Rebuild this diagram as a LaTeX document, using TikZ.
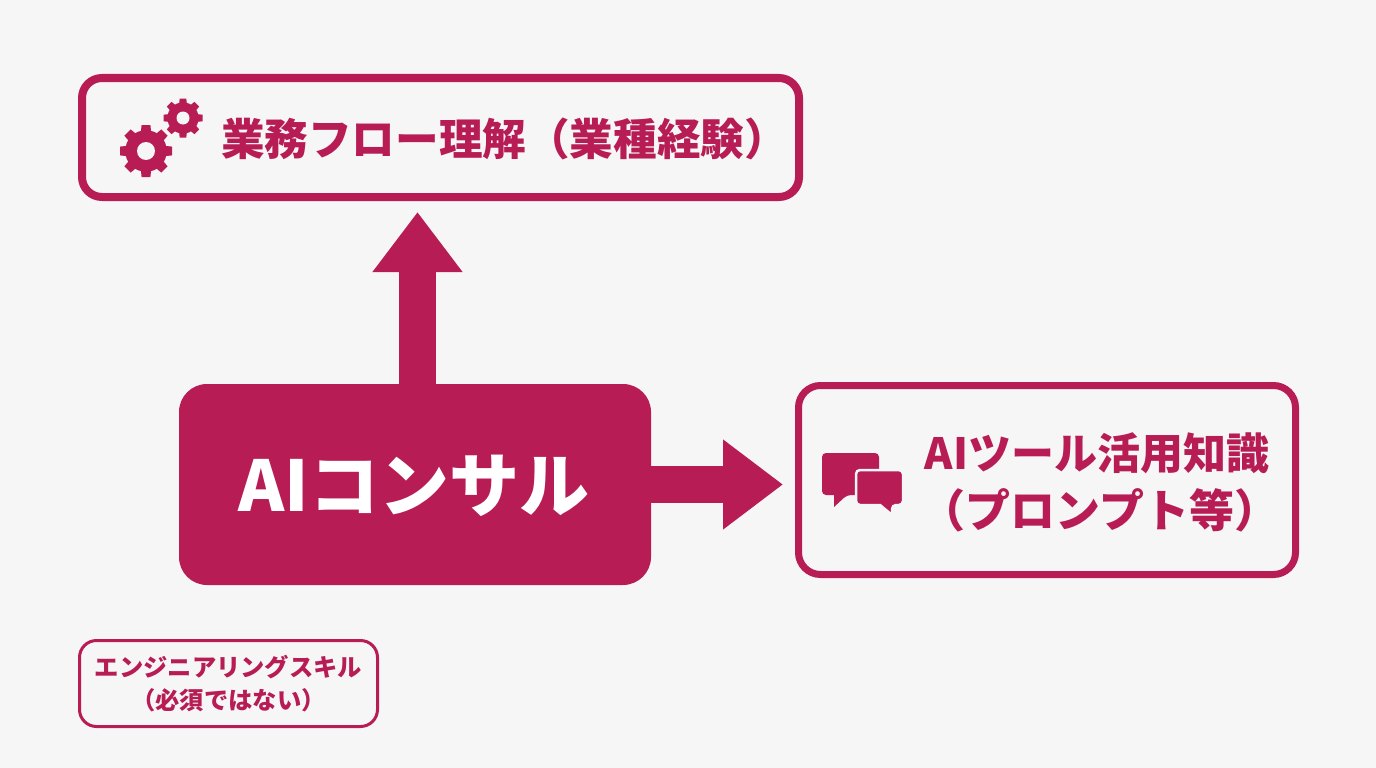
\documentclass[tikz,border=0pt]{standalone}
\usepackage{fontspec}
\setmainfont{Noto Sans CJK JP}
\usetikzlibrary{arrows.meta}
\definecolor{brand}{HTML}{B71C54}
\definecolor{paper}{HTML}{F6F6F6}
\tikzset{
  x=1pt,y=-1pt,
  box/.style={draw=brand,fill=paper,rounded corners=#1,inner sep=0pt,align=center,text=brand,font=\bfseries},
  solidbox/.style={fill=brand,rounded corners=28pt,inner sep=0pt,text=white,font=\bfseries},
  lbl/.style={inner sep=0pt,text=brand,align=center,font=\bfseries},
  bigarrow/.style={draw=brand,line width=37pt,-{Triangle[length=60pt,width=86pt]}},
  icon/.style={fill=brand,draw=none}
}
\newcommand{\mygear}[4]{% x,y,outer r,hole r
  \fill[icon] (#1,#2) circle[radius=#3*0.8];
  \foreach \a in {0,45,...,315}{
    \fill[icon,shift={(#1,#2)},rotate=\a]
      (-#3*0.27,0) -- (-#3*0.17,-#3) -- (#3*0.17,-#3) -- (#3*0.27,0) -- cycle;
  }
  \fill[paper] (#1,#2) circle[radius=#4];
}
\begin{document}
\begin{tikzpicture}
\useasboundingbox (0,0) rectangle (1376,768);
\fill[paper] (0,0) rectangle (1376,768);

\node[box=20pt,line width=8pt,minimum width=717pt,minimum height=119pt] (top) at (440.5,137.5) {};
\node[box=22pt,line width=7pt,minimum width=497pt,minimum height=189pt] (right) at (1047,480) {};
\node[solidbox,minimum width=472pt,minimum height=201pt] (main) at (415,484.5) {};
\node[inner sep=0pt,text=white,font=\bfseries\fontsize{70}{80}\selectfont] (mainlabel) at (414,486) {AIコンサル};
\node[box=17pt,line width=3pt,minimum width=298pt,minimum height=86pt,
      font=\bfseries\fontsize{24.3}{33}\selectfont] (small) at (228.5,683.5) {エンジニアリングスキル\\（必須ではない）};

\node[lbl,font=\bfseries\fontsize{43.6}{48}\selectfont] (toplabel) at (494,139) {\hspace*{21pt}業務フロー理解（業種経験）};
\node[lbl,font=\bfseries\fontsize{43}{43}\selectfont] (rightlabel1) at (1097,453) {AIツール活用知識};
\node[lbl,font=\bfseries\fontsize{45}{45}\selectfont] (rightlabel2) at (1100,510) {（プロンプト等）};

\coordinate (upx) at (417.5,300);
\draw[bigarrow,shorten >=11pt,shorten <=-2pt] (main.north -| upx) -- (top.south -| upx);
\draw[bigarrow,shorten >=12pt,shorten <=-2pt] (main.east) -- (right.west |- main.east);

\mygear{146}{151}{26}{9}
\mygear{183}{118}{19.5}{6.5}

% speech bubbles
\fill[icon,rounded corners=4pt] (822,453) -- (879,453) -- (879,495) -- (847,495) [sharp corners] -- (834,507) -- (834,495) [rounded corners=4pt] -- (822,495) -- cycle;
\filldraw[brand,draw=paper,line width=2.5pt,rounded corners=4pt] (856,470) -- (903,470) -- (903,505) -- (892,505) [sharp corners] -- (892,515) -- (880,505) [rounded corners=4pt] -- (856,505) -- cycle;
\end{tikzpicture}
\end{document}
